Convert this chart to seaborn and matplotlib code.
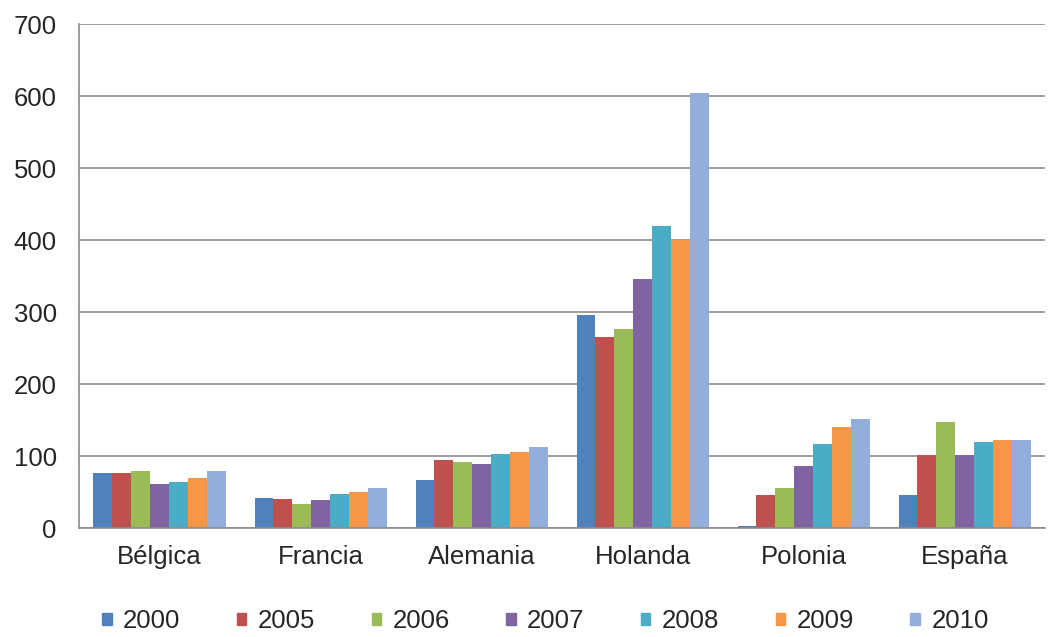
import pandas as pd
import matplotlib
matplotlib.use("Agg")
import matplotlib.pyplot as plt
import seaborn as sns

# Values
countries = ['Bélgica', 'Francia', 'Alemania', 'Holanda', 'Polonia', 'España']
years = ['2000', '2005', '2006', '2007', '2008', '2009', '2010']

v2000 = [76, 42, 67, 296, 3, 46]
v2005 = [76, 40, 95, 266, 46, 102]
v2006 = [79, 33, 92, 277, 55, 148]
v2007 = [61, 39, 89, 346, 86, 102]
v2008 = [64, 47, 103, 420, 117, 120]
v2009 = [69, 50, 105, 400, 140, 123]
v2010 = [79, 55, 113, 604, 151, 123]

colors = ['#4F81BD', '#C0504D', '#9BBB59', '#8064A2', '#4BACC6', '#F79646', '#93ADDC']

series = [v2000, v2005, v2006, v2007, v2008, v2009, v2010]
rows = []
for year, vals in zip(years, series):
    for country, v in zip(countries, vals):
        rows.append({'country': country, 'year': year, 'value': v})
df = pd.DataFrame(rows)

sns.set_style('white')
plt.rcParams['font.family'] = ['Liberation Sans', 'DejaVu Sans']

fig = plt.figure(figsize=(10.49, 6.37), dpi=100)
ax = fig.add_axes([0.0753, 0.171, 0.921, 0.791])

sns.barplot(data=df, x='country', y='value', hue='year', order=countries,
            hue_order=years, palette=colors, width=0.82, saturation=1,
            linewidth=0, ax=ax)

ax.set_ylim(0, 700)
ax.set_xlim(-0.5, 5.5)
ax.set_yticks(range(0, 701, 100))
ax.yaxis.grid(True, color='#8c8c8c', linewidth=1.2)
ax.set_axisbelow(True)
ax.set_xlabel('')
ax.set_ylabel('')

for s in ['top', 'right']:
    ax.spines[s].set_visible(False)
for s in ['left', 'bottom']:
    ax.spines[s].set_color('#8c8c8c')
    ax.spines[s].set_linewidth(1.2)

ax.tick_params(axis='y', which='major', length=5, color='#8c8c8c',
               labelsize=18.5, labelcolor='#262626', pad=11)
ax.tick_params(axis='x', which='major', length=0, labelsize=18.5,
               labelcolor='#262626', pad=12)
ax.set_xticks([i + 0.5 for i in range(-1, 6)], minor=True)
ax.tick_params(axis='x', which='minor', length=6, color='#8c8c8c')

ax.get_legend().remove()
handles = [plt.Rectangle((0, 0), 1, 1, color=c) for c in colors]
fig.legend(handles, years, loc='center', bbox_to_anchor=(0.52, 0.025),
           ncol=7, frameon=False, fontsize=18.5, handlelength=0.36,
           handleheight=0.36, handletextpad=0.45, columnspacing=2.2,
           labelcolor='#262626')

fig.savefig('out.png', dpi=100)
